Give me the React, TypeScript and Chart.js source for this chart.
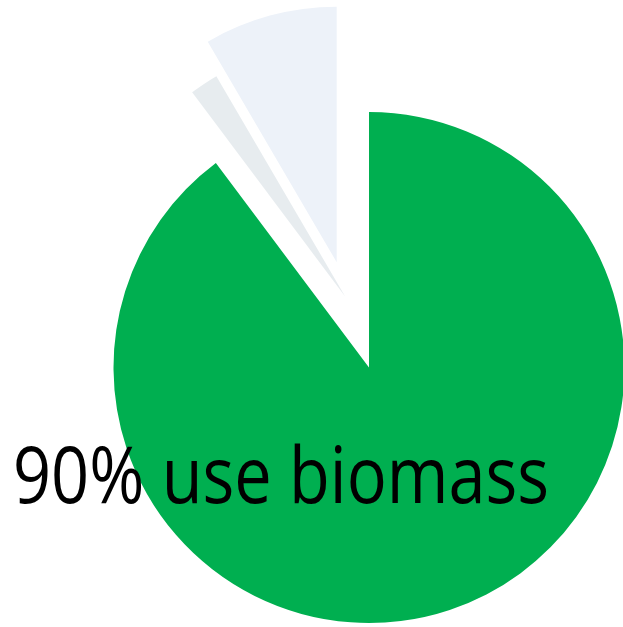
import React, { useEffect, useRef } from "react";
import { Chart, registerables } from "chart.js";

Chart.register(...registerables);

// Share of households (%) by fuel group, clockwise from 12 o'clock
const labels = ["Use biomass", "Other", "No biomass"];
const values = [89.77, 1.81, 8.42];
const colors = ["#00AF50", "#E7ECEF", "#EDF2F9"];
const caption = "90% use biomass";

// Each exploded slice is drawn by its own pie layer so that it can sit at its own centre
// (padding = left, right, top, bottom of the chart area for that layer)
const layerPads = [
  { left: 115, right: 0, top: 108, bottom: 0 },
  { left: 67.6, right: 0, top: 0, bottom: 33.4 },
  { left: 50.4, right: 0, top: 0, bottom: 102.6 },
];
const RADIUS = 255.5;

const captionPlugin = {
  id: "caption",
  afterDraw(chart: any) {
    const ctx = chart.ctx;
    ctx.save();
    ctx.font = '400 79px "Open Sans"';
    ctx.fillStyle = "#000000";
    ctx.textBaseline = "alphabetic";
    ctx.textAlign = "left";
    ctx.fillText(caption, 13, 503, 536);
    ctx.restore();
  },
};

export default function App() {
  const refs = [
    useRef<HTMLCanvasElement | null>(null),
    useRef<HTMLCanvasElement | null>(null),
    useRef<HTMLCanvasElement | null>(null),
  ];
  useEffect(() => {
    const charts: Chart[] = [];
    refs.forEach((r, i) => {
      if (!r.current) return;
      const bg = colors.map((c, j) => (j === i ? c : "rgba(0,0,0,0)"));
      charts.push(
        new Chart(r.current, {
          type: "pie",
          data: {
            labels,
            datasets: [
              {
                data: values,
                backgroundColor: bg,
                borderWidth: 0,
                radius: RADIUS,
                clip: false,
              } as any,
            ],
          },
          options: {
            animation: false,
            responsive: false,
            maintainAspectRatio: false,
            layout: { padding: layerPads[i] },
            plugins: {
              legend: { display: false },
              tooltip: { enabled: false },
            },
          },
          plugins: i === refs.length - 1 ? [captionPlugin] : [],
        })
      );
    });
    return () => charts.forEach((c) => c.destroy());
  }, []);
  return (
    <div style={{ position: "absolute", left: 0, top: 0, width: 623, height: 627 }}>
      {refs.map((r, i) => (
        <canvas
          key={i}
          ref={r}
          width={623}
          height={627}
          style={{ position: "absolute", left: 0, top: 0, width: 623, height: 627 }}
        />
      ))}
    </div>
  );
}
